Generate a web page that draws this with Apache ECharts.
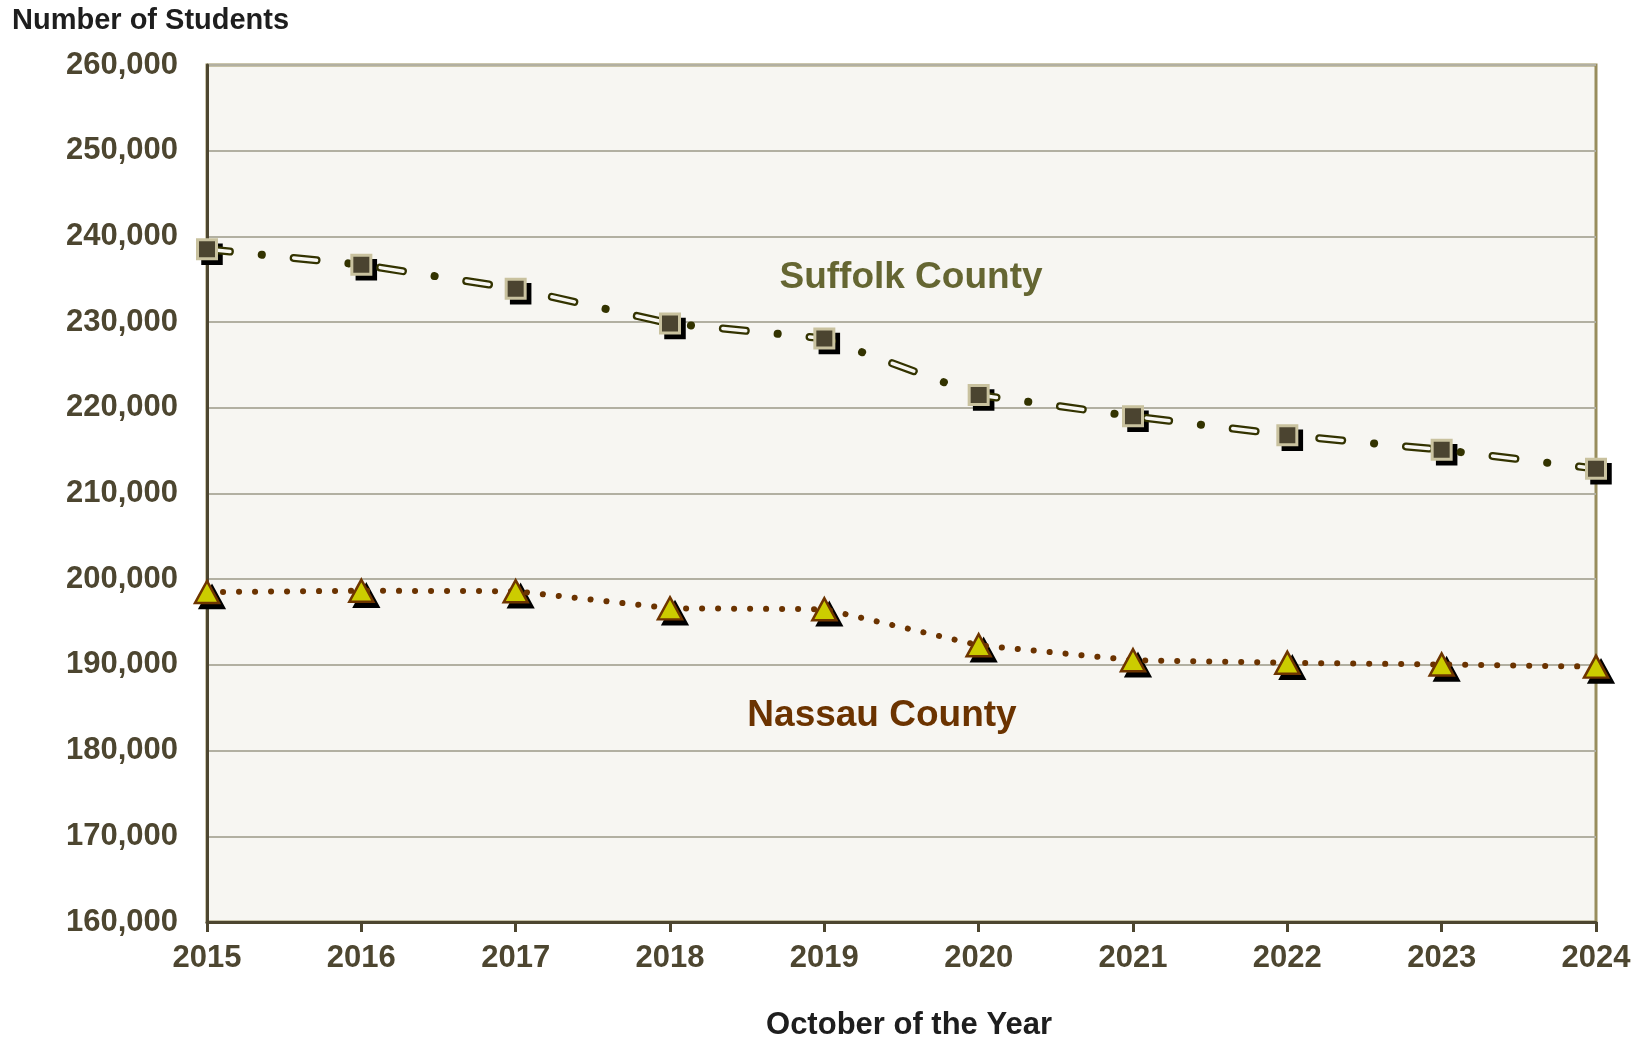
<!DOCTYPE html>
<html>
<head>
<meta charset="utf-8">
<title>Number of Students</title>
<script src="https://cdn.jsdelivr.net/npm/echarts@6/dist/echarts.min.js"></script>
<style>
	html, body {
		margin: 0;
		background: #fff;
	}
	#chart {
		width: 1641px;
		height: 1041px;
	}
</style>
</head>
<body>
<div id="chart"></div>
<script>
let years = ['2015', '2016', '2017', '2018', '2019', '2020', '2021', '2022', '2023', '2024'];
let suffolk = [238500, 236700, 233900, 229850, 228100, 221500, 219000, 216800, 215100, 212900];
let nassau = [198500, 198650, 198600, 196600, 196500, 192300, 190550, 190250, 190050, 189800];
let yTicks = {min: 160000, max: 260000, interval: 10000};

let font = '"Liberation Sans", Arial, sans-serif';
let axisBrown = '#4d4630';
let plotBg = '#f7f6f2';

// black squares/triangles drawn slightly offset, under the real markers
let shadow = (data, symbol, size) => ({
	type: 'line',
	data,
	symbol,
	symbolSize: size,
	symbolOffset: [5, 5],
	showAllSymbol: true,
	lineStyle: {opacity: 0},
	itemStyle: {color: '#000', borderColor: '#000', borderWidth: 2.5},
	silent: true,
	z: 2,
});

let chart = echarts.init(document.getElementById('chart'));
chart.setOption({
	animation: false,
	grid: {
		left: 207,
		right: 45,
		top: 65,
		bottom: 119,
		show: true,
		backgroundColor: plotBg,
		borderColor: '#988d5d',
		borderWidth: 3,
	},
	xAxis: {
		type: 'category',
		data: years,
		boundaryGap: false,
		axisLine: {lineStyle: {color: axisBrown, width: 3}},
		axisTick: {show: true, length: 10, lineStyle: {color: axisBrown, width: 3}},
		axisLabel: {
			color: axisBrown,
			fontFamily: font,
			fontWeight: 'bold',
			fontSize: 31,
			margin: 21,
		},
		splitLine: {show: false},
	},
	yAxis: {
		type: 'value',
		min: yTicks.min,
		max: yTicks.max,
		interval: yTicks.interval,
		axisLine: {show: true, lineStyle: {color: axisBrown, width: 3}},
		axisTick: {show: false},
		axisLabel: {
			color: axisBrown,
			fontFamily: font,
			fontWeight: 'bold',
			fontSize: 31,
			margin: 29,
			formatter: (v) => v.toLocaleString('en-US'),
		},
		splitLine: {lineStyle: {color: '#b2b0a2', width: 2}},
	},
	series: [
		shadow(suffolk, 'rect', 19),
		shadow(nassau, 'triangle', [24, 22]),
		{
			name: 'Suffolk County',
			type: 'line',
			data: suffolk,
			symbol: 'none',
			lineStyle: {color: '#333300', width: 8, cap: 'round', type: [23, 32, 0.1, 32]},
			z: 3,
		},
		{
			// light core of the hollow dashes
			type: 'line',
			data: suffolk,
			symbol: 'none',
			lineStyle: {color: plotBg, width: 3.5, cap: 'round', type: [23, 64.1]},
			z: 4,
		},
		{
			type: 'line',
			data: suffolk,
			symbol: 'rect',
			symbolSize: 19,
			showAllSymbol: true,
			lineStyle: {opacity: 0},
			itemStyle: {color: '#4b4430', borderColor: '#c9c29f', borderWidth: 3},
			z: 5,
		},
		{
			name: 'Nassau County',
			type: 'line',
			data: nassau,
			symbol: 'triangle',
			symbolSize: [24, 22],
			showAllSymbol: true,
			lineStyle: {color: '#6b3300', width: 6, cap: 'round', type: [0.1, 15.9]},
			itemStyle: {color: '#cccc00', borderColor: '#6e3500', borderWidth: 2.5},
			z: 5,
		},
	],
	graphic: [
		{
			type: 'text',
			x: 12,
			y: 21,
			style: {
				text: 'Number of Students',
				fill: '#1e1e1e',
				font: 'bold 29px ' + font,
				align: 'left',
				verticalAlign: 'middle',
			},
		},
		{
			type: 'text',
			x: 909,
			y: 1025,
			style: {
				text: 'October of the Year',
				fill: '#1e1e1e',
				font: 'bold 31px ' + font,
				align: 'center',
				verticalAlign: 'middle',
			},
		},
		{
			type: 'text',
			x: 911,
			y: 278,
			z: 10,
			style: {
				text: 'Suffolk County',
				fill: '#656632',
				font: 'bold 37px ' + font,
				align: 'center',
				verticalAlign: 'middle',
			},
		},
		{
			type: 'text',
			x: 882,
			y: 716,
			z: 10,
			style: {
				text: 'Nassau County',
				fill: '#6b3300',
				font: 'bold 37px ' + font,
				align: 'center',
				verticalAlign: 'middle',
			},
		},
	],
});
</script>
</body>
</html>
